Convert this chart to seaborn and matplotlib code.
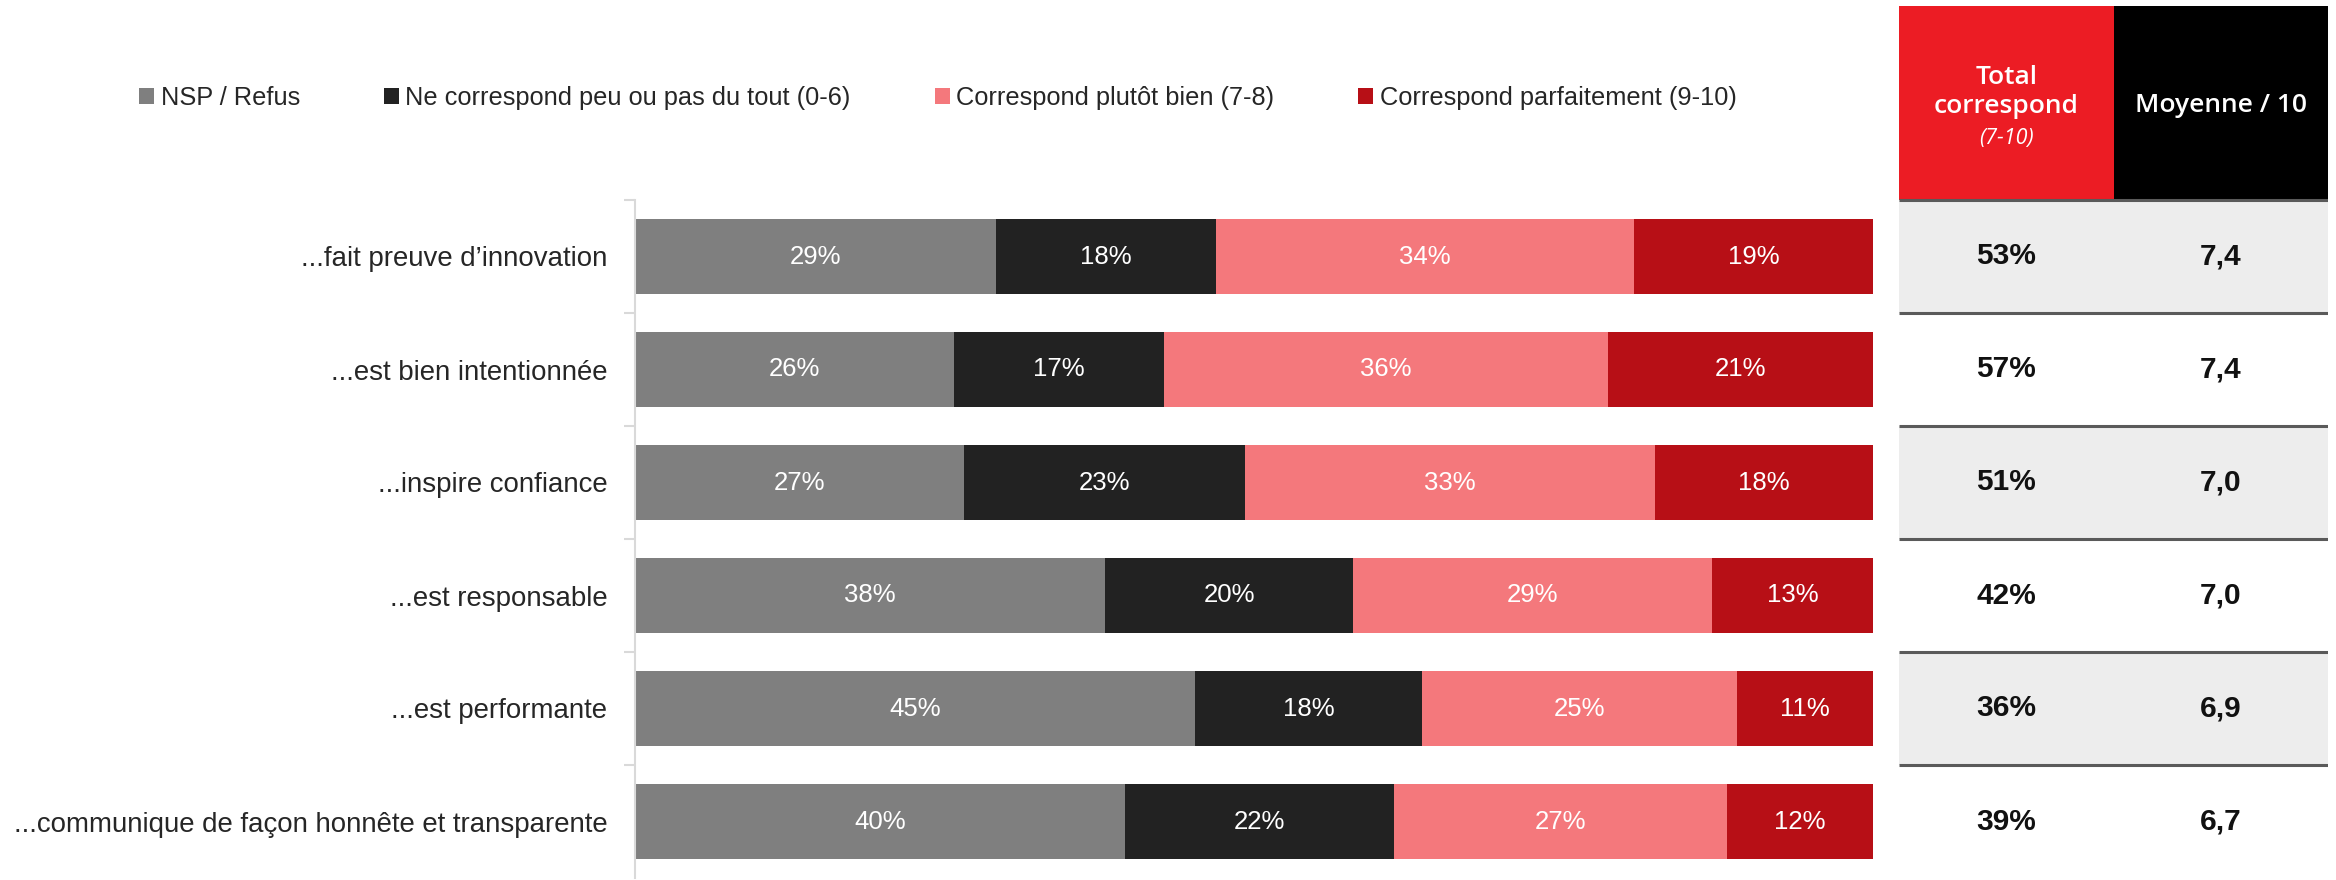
import numpy as np
import pandas as pd
import seaborn as sns
import matplotlib.pyplot as plt
from matplotlib.patches import Patch, Rectangle

# Items (top to bottom)
items = [
    "...fait preuve d’innovation",
    "...est bien intentionnée",
    "...inspire confiance",
    "...est responsable",
    "...est performante",
    "...communique de façon honnête et transparente",
]

# segment shares (%)
nsp = [29.2, 25.8, 26.6, 38.0, 45.2, 39.6]
pas_du_tout = [17.7, 16.9, 22.7, 20.0, 18.4, 21.7]
plutot_bien = [33.8, 35.9, 33.1, 29.0, 25.4, 26.9]
parfaitement = [19.3, 21.4, 17.6, 13.0, 11.0, 11.8]

# side table
total_correspond = [53, 57, 51, 42, 36, 39]
moyenne = [7.4, 7.4, 7.0, 7.0, 6.9, 6.7]

series = ["NSP / Refus", "Ne correspond peu ou pas du tout (0-6)",
          "Correspond plutôt bien (7-8)", "Correspond parfaitement (9-10)"]
colors = ["#7F7F7F", "#222222", "#F4787C", "#B70F16"]

df = pd.DataFrame({"item": items, series[0]: nsp, series[1]: pas_du_tout,
                   series[2]: plutot_bien, series[3]: parfaitement})
cum = df[series].cumsum(axis=1)

sns.set_style("white")
plt.rcParams['font.family'] = ['Liberation Sans', 'DejaVu Sans']

W, H = 2336, 880
fig = plt.figure(figsize=(W / 100, H / 100), dpi=100)

# ---- stacked bars ----
ax = fig.add_axes([635 / W, 2 / H, (1873 - 635) / W, (878 - 200) / H])
for name, col in reversed(list(zip(series, colors))):
    sns.barplot(x=cum[name], y=df["item"], order=items, color=col, saturation=1,
                width=0.66, orient="h", edgecolor="none", linewidth=0, ax=ax)

for i in range(len(items)):
    for name in series:
        v = df.loc[i, name]
        left = cum.loc[i, name] - v
        ax.text(left + v / 2, i, f"{v:.0f}%", ha="center", va="center",
                color="white", fontsize=18.5)

ax.set_xlim(0, 100)
ax.set_ylim(len(items) - 0.5, -0.5)
ax.set_xticks([])
ax.set_xlabel("")
ax.set_ylabel("")
ax.set_yticks(range(len(items)))
ax.set_yticklabels(items, fontsize=19.9, color="#262626")
ax.tick_params(axis="y", which="major", length=0, pad=20)
ax.set_yticks(np.arange(-0.5, len(items) - 0.5, 1), minor=True)
ax.tick_params(axis="y", which="minor", length=8, width=1.5, color="#D9D9D9", left=True)
for s in ["top", "right", "bottom"]:
    ax.spines[s].set_visible(False)
ax.spines["left"].set_color("#D9D9D9")
ax.spines["left"].set_linewidth(1.5)

# ---- legend ----
handles = [Patch(facecolor=c, edgecolor="none") for c in colors]
fig.legend(handles, series, loc="center left", bbox_to_anchor=(139 / W, 1 - 98 / H),
           ncol=4, frameon=False, fontsize=18.3, handlelength=0.6, handleheight=0.6,
           handletextpad=0.25, columnspacing=3.3, borderpad=0, borderaxespad=0,
           labelcolor="#262626")

# ---- side table ----
hh = 194 / 113  # header height in row units
tax = fig.add_axes([1899 / W, 2 / H, (2328 - 1899) / W, (878 - 6) / H])
tax.set_xlim(0, 2)
tax.set_ylim(len(items) - 0.5, -0.5 - hh)
tax.axis("off")

tax.add_patch(Rectangle((0, -0.5 - hh), 1, hh, fc="#EC1C24", ec="none"))
tax.add_patch(Rectangle((1, -0.5 - hh), 1, hh, fc="black", ec="none"))
for i in range(len(items)):
    if i % 2 == 0:
        tax.add_patch(Rectangle((0, i - 0.5), 2, 1, fc="#EDEDED", ec="none"))
    tax.plot([0, 2], [i - 0.5, i - 0.5], color="#5A5A5A", lw=2.2, solid_capstyle="butt")
    tax.text(0.5, i, f"{total_correspond[i]}%", ha="center", va="center",
             fontsize=21.5, fontweight="bold", color="#111111")
    tax.text(1.5, i, f"{moyenne[i]:.1f}".replace(".", ","), ha="center", va="center",
             fontsize=21.5, fontweight="bold", color="#111111")

hdr_font = ["Open Sans", "DejaVu Sans"]
tax.text(0.5, -1.456, "Total\ncorrespond", ha="center", va="center", color="white",
         fontsize=19, family=hdr_font, fontweight="semibold", linespacing=1.25)
tax.text(0.5, -1.04, "(7-10)", ha="center", va="center", color="white",
         fontsize=15.5, style="italic", family=hdr_font)
tax.text(1.5, -1.34, "Moyenne / 10", ha="center", va="center", color="white",
         fontsize=19, family=hdr_font, fontweight="semibold")

fig.savefig("out.png", dpi=100)
